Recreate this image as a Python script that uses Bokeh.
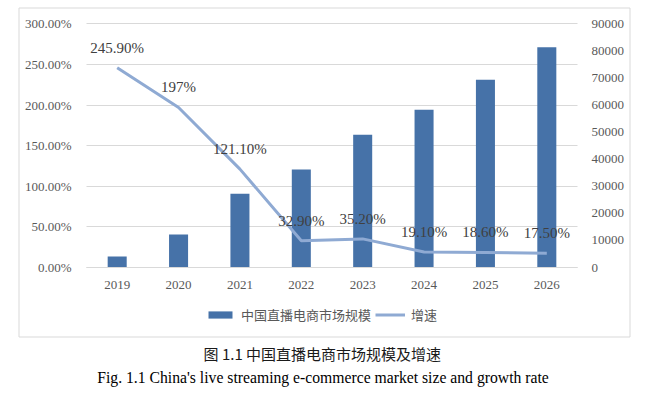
from bokeh.plotting import figure
from bokeh.models import (ColumnDataSource, Range1d, LinearAxis, FixedTicker, NumeralTickFormatter,
                          LabelSet, Label, Legend, LegendItem, BoxAnnotation)
from bokeh.embed import file_html
from bokeh.resources import INLINE

years = ["2019", "2020", "2021", "2022", "2023", "2024", "2025", "2026"]
market_size = [4100, 12200, 27200, 36200, 49000, 58300, 69300, 81300]
growth_rate = [2.459, 1.97, 1.211, 0.329, 0.352, 0.191, 0.186, 0.175]
growth_labels = ["245.90%", "197%", "121.10%", "32.90%", "35.20%", "19.10%", "18.60%", "17.50%"]
pct_ticks = [0, 0.5, 1.0, 1.5, 2.0, 2.5, 3.0]
size_ticks = [0, 10000, 20000, 30000, 40000, 50000, 60000, 70000, 80000, 90000]
legend_labels = ["中国直播电商市场规模", "增速"]
caption_cn = "图 1.1  中国直播电商市场规模及增速"
caption_en = "Fig. 1.1 China's live streaming e-commerce market size and growth rate"

n = len(years)
xpos = [i + 0.5 for i in range(n)]
src = ColumnDataSource(dict(x=xpos, year=years, size=market_size, growth=growth_rate, lab=growth_labels))

BAR = "#4672A8"
LINE = "#8FAAD3"
GRID = "#D9D9D9"
TXT = "#595959"

# pixel layout of the plotting area (frame covers the whole canvas, axes are placed inside it)
W, H = 649, 399
PL, PR, PT, PB = 86.0, 577.0, 23.3, 267.0   # plot area in page pixels
FL = 14.0                                   # frame left edge
xs = (PR - PL) / n
ys = (PB - PT) / pct_ticks[-1]
x_start = -(PL - FL) / xs
x_end = n + (W - PR) / xs
y_end = pct_ticks[-1] + PT / ys
y_start = -(H - PB) / ys
ratio = size_ticks[-1] / pct_ticks[-1]


def px_x(px):
    return (px - PL) / xs


def px_y(py):
    return (PB - py) / ys


p = figure(width=W, height=H, x_range=Range1d(x_start, x_end), y_range=Range1d(y_start, y_end),
           output_backend="svg", toolbar_location=None,
           min_border=0, min_border_left=int(FL))
p.extra_y_ranges = {"size": Range1d(y_start * ratio, y_end * ratio)}
p.outline_line_color = None
p.background_fill_color = "white"
p.border_fill_color = "white"

box = BoxAnnotation(left=px_x(18.5), right=px_x(629.5), top=px_y(7.5), bottom=px_y(336.5),
                    fill_color=None, fill_alpha=0, line_color=GRID, line_alpha=1.0, line_width=1)
p.add_layout(box)

bars = p.vbar(x="x", top="size", width=0.31, y_range_name="size", source=src,
              fill_color=BAR, line_color=None)
line = p.line(x="x", y="growth", source=src, line_color=LINE, line_width=3)

labels = LabelSet(x="x", y="growth", text="lab", source=src, y_offset=20,
                  text_align="center", text_baseline="middle", text_font="Liberation Serif",
                  text_font_size="15px", text_color="#404040")
p.add_layout(labels)

# left axis
p.yaxis.fixed_location = 0
p.yaxis.ticker = FixedTicker(ticks=pct_ticks)
p.yaxis.formatter = NumeralTickFormatter(format="0.00%")
p.yaxis.axis_line_color = None
p.yaxis.major_tick_line_color = None
p.yaxis.minor_tick_line_color = None
p.yaxis.major_label_standoff = 9
p.yaxis.major_label_text_font = "Liberation Serif"
p.yaxis.major_label_text_font_size = "13px"
p.yaxis.major_label_text_color = TXT

# right axis
ra = LinearAxis(y_range_name="size", ticker=FixedTicker(ticks=size_ticks),
                formatter=NumeralTickFormatter(format="0"), fixed_location=n)
ra.axis_line_color = None
ra.major_tick_line_color = None
ra.minor_tick_line_color = None
ra.major_label_standoff = 8
ra.major_label_text_font = "Liberation Serif"
ra.major_label_text_font_size = "13px"
ra.major_label_text_color = TXT
p.add_layout(ra, "right")

# x axis
p.xaxis.fixed_location = 0
p.xaxis.bounds = (0, n)
p.xaxis.ticker = FixedTicker(ticks=xpos)
p.xaxis.major_label_overrides = {x: y for x, y in zip(xpos, years)}
p.xaxis.axis_line_color = GRID
p.xaxis.major_tick_line_color = None
p.xaxis.minor_tick_line_color = None
p.xaxis.major_label_standoff = 7
p.xaxis.major_label_text_font = "Liberation Serif"
p.xaxis.major_label_text_font_size = "13px"
p.xaxis.major_label_text_color = TXT

p.xgrid.visible = False
try:
    p.ygrid.ticker = FixedTicker(ticks=pct_ticks)
    p.ygrid.grid_line_color = GRID
    p.ygrid.cross_bounds = (0, n)
except Exception:
    p.ygrid.visible = False
    p.segment(x0=[0] * len(pct_ticks), x1=[n] * len(pct_ticks), y0=pct_ticks, y1=pct_ticks,
              line_color=GRID, line_width=1, level="underlay")

legend = Legend(items=[LegendItem(label=legend_labels[0], renderers=[bars]),
                       LegendItem(label=legend_labels[1], renderers=[line])],
                orientation="horizontal", location=(205 - FL, 75),
                border_line_color=None, background_fill_alpha=0,
                label_text_font="Noto Sans CJK SC", label_text_font_size="13px",
                label_text_color=TXT, glyph_width=30, glyph_height=9, label_height=16,
                label_standoff=6, spacing=4, padding=0, margin=0)
p.add_layout(legend)

t1 = Label(x=px_x(323.5), y=px_y(353), text=caption_cn,
           text_align="center", text_baseline="middle", text_font="Noto Sans CJK SC",
           text_font_size="15px", text_color="#1a1a1a")
t2 = Label(x=px_x(322.5), y=px_y(377), text=caption_en,
           text_align="center", text_baseline="middle", text_font="Liberation Serif",
           text_font_size="15.7px", text_color="black")
p.add_layout(t1)
p.add_layout(t2)

open("out.html", "w").write(file_html(p, INLINE))
